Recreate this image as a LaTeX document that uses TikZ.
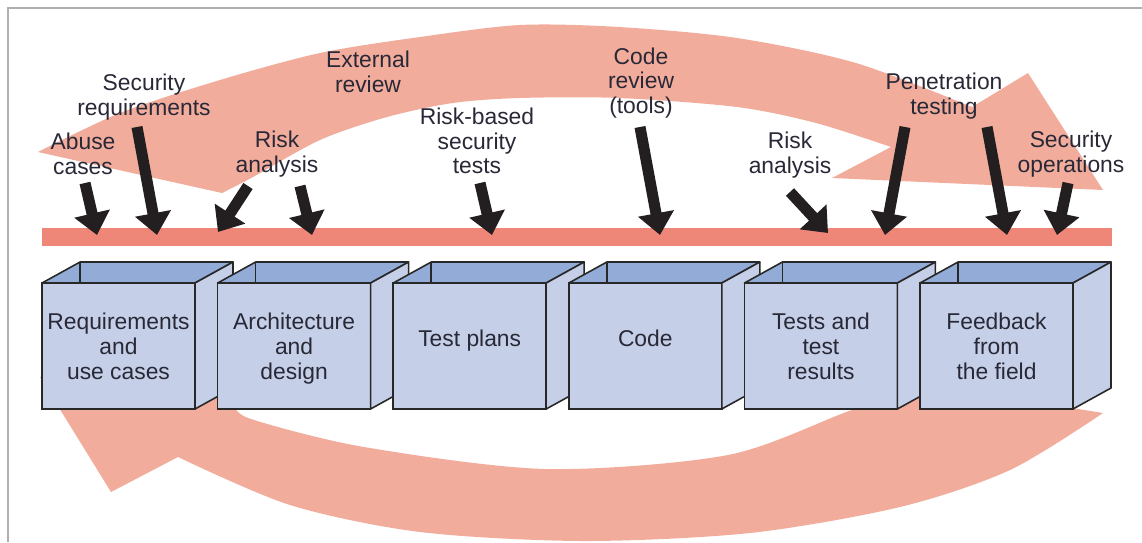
\documentclass[tikz,border=0pt]{standalone}
\usepackage{fontspec}
\setmainfont{Liberation Sans}
\usetikzlibrary{arrows.meta}
\definecolor{bandc}{RGB}{242,172,156}
\definecolor{barc}{RGB}{238,135,120}
\definecolor{frontc}{RGB}{197,208,232}
\definecolor{topc}{RGB}{146,171,215}
\definecolor{edgec}{RGB}{40,40,40}
\definecolor{txtc}{RGB}{40,40,55}
\definecolor{blkc}{RGB}{35,31,32}
\definecolor{framec}{RGB}{175,175,175}
\begin{document}
\begin{tikzpicture}[x=0.02cm,y=-0.02cm,
  lbl/.style={align=center,font=\fontsize{13}{14}\selectfont,text=txtc,inner sep=0pt},
  boxface/.style={draw=edgec,fill=frontc,line width=0.9pt,minimum width=3.06cm,minimum height=2.52cm,
    inner sep=0pt,outer sep=0pt,align=center,font=\fontsize{13}{14.2}\selectfont,text=txtc},
  boxedge/.style={draw=edgec,line width=0.9pt,line join=round},
  blockarrow/.style={draw=blkc,line width=6.3pt,-{Triangle[length=12.5pt,width=20pt]}},
  ]
\useasboundingbox (0,0) rectangle (1142,542);
% frame
\draw[framec,line width=1.1pt] (8,542) -- (8,8) -- (1142,8);

% top curved band
\fill[bandc] (38,152) -- (222,193)
  -- plot[smooth] coordinates {(222,193) (253,177) (320,140) (387,117) (453,103) (520,98) (619,98) (737,107) (816,123) (891,147)}
  -- (832,178) -- (1103,190) -- (1028,73) -- (972,107)
  -- plot[smooth] coordinates {(972,107) (856,63) (737,38) (619,27) (520,25) (420,37) (320,53) (220,80) (120,113) (38,152)}
  -- cycle;

% bottom curved band
\fill[bandc] (40,377) -- (111,492) -- (178,457)
  -- plot[smooth] coordinates {(178,457) (290,505) (420,532) (583,541) (750,533) (900,507) (1010,470) (1103,413)}
  -- (935,386)
  -- plot[smooth] coordinates {(935,386) (852,410) (728,455) (546,469) (364,447) (251,419) (235,405)}
  -- (232,329) -- cycle;

% bar
\node[fill=barc,minimum width=21.4cm,minimum height=0.36cm,inner sep=0pt,outer sep=0pt] (bar) at (577,237) {};

% labels
\node[lbl] (sreq) at (144,97) {Security\\requirements};
\node[lbl] (abuse) at (83,154) {Abuse\\cases};
\node[lbl] (riskA) at (277,154) {Risk\\analysis};
\node[lbl] (ext) at (368,72) {External\\review};
\node[lbl] (rbst) at (477,141) {Risk-based\\security\\tests};
\node[lbl] (code) at (641,83) {Code\\review\\(tools)};
\node[lbl] (riskB) at (790,155) {Risk\\analysis};
\node[lbl] (pen) at (944,96) {Penetration\\testing};
\node[lbl] (secops) at (1071,154) {Security\\operations};

% black arrows
\foreach \n/\sx/\sy/\ex/\ey in {1/85/183/97/235, 2/137/127/157/235, 3/248/186/218/232, 4/300/186/312/235,
  5/480/183/492/235, 6/640/127/660/235, 7/790/192/828/233, 8/905/127/885/235, 9/987/127/1007/235, 10/1068/183/1057/235}
{
  \coordinate (as\n) at (\sx,\sy);
  \coordinate (ae\n) at (\ex,\ey);
  \draw[blockarrow] (as\n) -- (ae\n);
}

% boxes
\foreach \i/\txt/\td in {0/{Requirements\\and\\use cases}/0pt, 1/{Architecture\\and\\design}/0pt, 2/{Test plans}/9pt,
  3/{Code}/9pt, 4/{Tests and\\test\\results}/0pt, 5/{Feedback\\from\\the field}/0pt}
{
  \node[boxface,text depth=\td] (box\i) at (118.5+175.6*\i,346) {\txt};
  \filldraw[boxedge,fill=topc] (box\i.north west) -- ++(38,-21) -- ++(153,0) -- (box\i.north east) -- cycle;
  \filldraw[boxedge,fill=frontc] (box\i.north east) -- ++(38,-21) -- ++(0,126) -- (box\i.south east) -- cycle;
  \draw[boxedge] (box\i.north west) ++(38,-21) -- ++(0,21);
}
\end{tikzpicture}
\end{document}
